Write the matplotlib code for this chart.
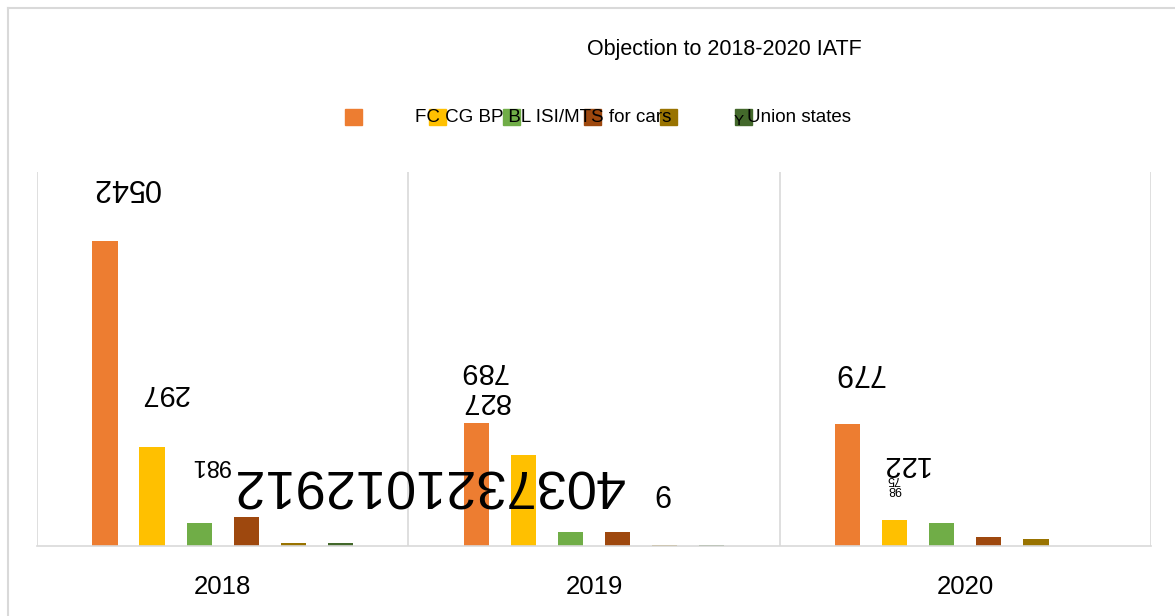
import numpy as np
import matplotlib.pyplot as plt
from matplotlib.patches import Rectangle
from matplotlib.lines import Line2D

plt.rcParams['font.family'] = ['Liberation Sans', 'DejaVu Sans']

years = ['2018', '2019', '2020']
series_names = ['FC', 'CG', 'BP', 'BL', 'ISI/MTS for cars', 'Union states']
colors = ['#ED7D31', '#FFC000', '#70AD47', '#9E480E', '#997300', '#43682B']

fc = [2450, 987, 977]
cg = [792, 728, 211]
bp = [184, 112, 184]
bl = [229, 110, 69]
isi = [22, 8, 60]
union = [22, 8, 0]
values = [fc, cg, bp, bl, isi, union]

# data labels as they came out of the source (drawn upside down)
# (text, series, year index, dx px, dy px, size)
labels = [
    ('0542', 0, 0, 21, 54, 22),
    ('297', 1, 0, 12, 54, 21),
    ('981', 2, 0, 11, 58, 17),
    ('4037321012912', 3, 0, 182, 34, 39),
    ('9', 4, 1, -3, 53, 22),
    ('789', 0, 1, 7, 52, 21),
    ('827', 1, 1, -38, 54, 21),
    ('779', 0, 2, 11, 52, 22),
    ('122', 1, 2, 10, 56, 21),
    ('75', 1, 2, -1, 41, 9),
    ('98', 1, 2, 0, 31, 9),
]

fig = plt.figure(figsize=(11.75, 6.16), dpi=100)
ax = fig.add_axes([37 / 1175, 1 - 546 / 616, 1114 / 1175, 374 / 616])

x = np.arange(len(years))
step = 0.1267
width = 0.068
for i, (vals, c) in enumerate(zip(values, colors)):
    ax.bar(x + (i - 2.5) * step, vals, width=width, color=c, zorder=2)

for text, s, k, dx, dy, size in labels:
    ax.annotate(text, (x[k] + (s - 2.5) * step, values[s][k]),
                xytext=(dx, dy), textcoords='offset pixels',
                rotation=180, ha='center', va='center', fontsize=size,
                color='black', zorder=5)

ax.set_xlim(-0.5, 2.5)
ax.set_ylim(0, 3000)
ax.set_yticks([])
ax.set_xticks(x)
ax.set_xticklabels(years, fontsize=18.5)
ax.tick_params(axis='x', length=0, pad=21)
ax.set_xticks([-0.5, 0.5, 1.5, 2.5], minor=True)
ax.tick_params(axis='x', which='minor', length=0)
ax.grid(axis='x', which='minor', color='#d9d9d9', linewidth=1.2, zorder=0)
for sp in ['top', 'left', 'right']:
    ax.spines[sp].set_visible(False)
ax.spines['bottom'].set_color('#d9d9d9')
ax.spines['bottom'].set_linewidth(1.2)

# outer chart border
fig.add_artist(Line2D([8 / 1175, 8 / 1175], [0, 1 - 8 / 616], color='#d9d9d9', lw=1.5))
fig.add_artist(Line2D([8 / 1175, 1], [1 - 8 / 616, 1 - 8 / 616], color='#d9d9d9', lw=1.5))

fig.text(724 / 1175, 1 - 50 / 616, 'Objection to 2018-2020 IATF',
         ha='center', va='center', fontsize=15.5)

# legend, garbled as in the source
sq_x = [344.5, 428.6, 503, 583.6, 660.4, 735]
for px, c in zip(sq_x, colors):
    fig.add_artist(Rectangle((px / 1175, 1 - 124.5 / 616), 17 / 1175, 16 / 616,
                             transform=fig.transFigure, color=c, zorder=1))
fig.text(414.8 / 1175, 1 - 117 / 616, ' '.join(series_names[:5]),
         ha='left', va='center', fontsize=13.5, zorder=3)
fig.text(734 / 1175, 1 - 121 / 616, 'Y', ha='left', va='center', fontsize=11, zorder=3)
fig.text(747 / 1175, 1 - 117 / 616, series_names[5], ha='left', va='center',
         fontsize=13.5, zorder=3)

fig.savefig('out.png', dpi=100)
